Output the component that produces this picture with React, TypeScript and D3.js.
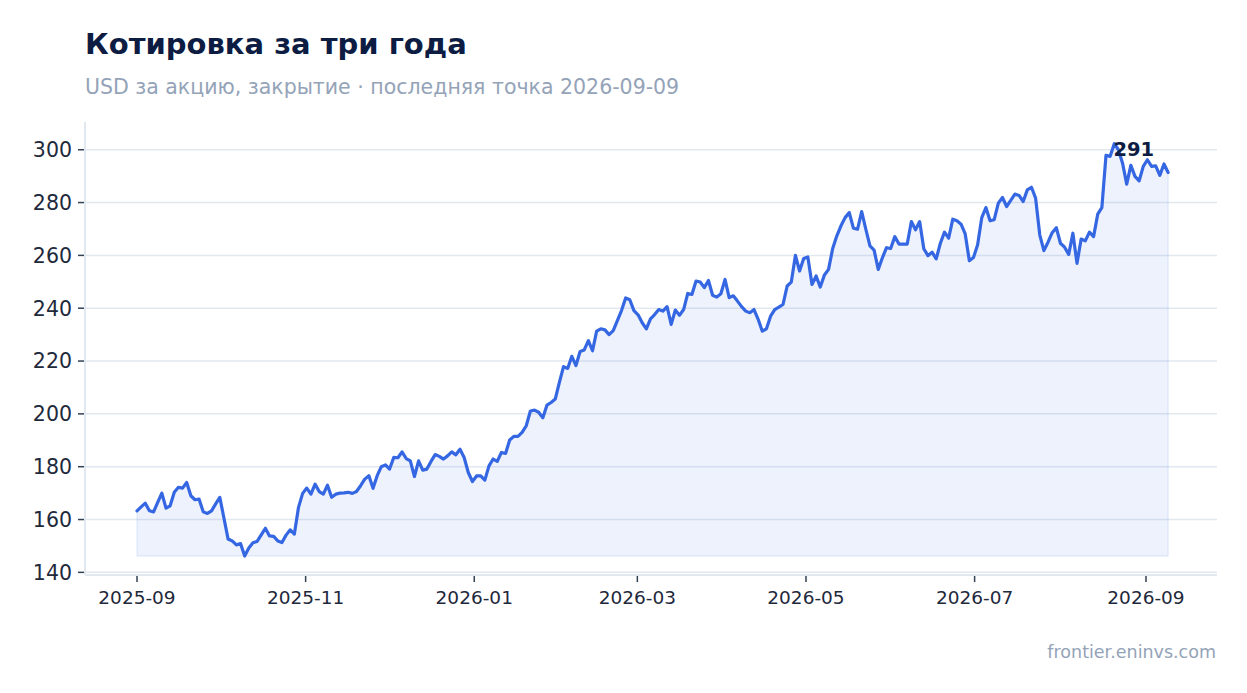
import * as d3 from 'd3';
import React from 'react';

const W = 1247;
const H = 693;

const title = 'Котировка за три года';
const subtitle = 'USD за акцию, закрытие · последняя точка 2026-09-09';
const source = 'frontier.eninvs.com';

// first and last quote date, points are evenly spaced in between
const firstDate = '2025-09-01';
const lastDate = '2026-09-09';

// closes (USD)
const closesSepNov = [
  163.3, 164.8, 166.2, 163.3, 162.9, 166.5, 170.0, 164.3, 165.2, 170.3,
  172.2, 171.9, 174.0, 169.0, 167.5, 167.7, 162.9, 162.3, 163.3, 165.9,
  168.4, 160.5, 152.6, 151.9, 150.4, 150.9, 146.2, 149.2, 151.2, 151.7,
  154.2, 156.7, 153.8, 153.6, 151.9, 151.3, 154.1, 156.1, 154.5, 164.6,
  169.9, 171.9, 169.6, 173.4, 170.6, 169.6, 173.0, 168.4, 169.6, 170.0,
  170.1, 170.3, 169.9, 170.6, 172.8, 175.3, 176.6, 171.8, 176.6, 180.0,
  180.7,
];
const closesDecFeb = [
  179.1, 183.5, 183.4, 185.6, 183.1, 182.2, 176.3, 182.2, 178.7, 179.1,
  182.0, 184.6, 183.9, 182.9, 184.1, 185.6, 184.5, 186.6, 183.5, 177.8,
  174.4, 176.5, 176.5, 174.9, 180.3, 182.9, 182.0, 185.4, 185.0, 190.1,
  191.5, 191.5, 193.0, 195.5, 201.1, 201.4, 200.6, 198.5, 203.3, 204.3,
  205.6, 211.9, 217.9, 217.2, 221.8, 218.3, 223.6, 224.2, 227.7, 223.9,
  231.3, 232.2, 231.8, 230.0, 231.5, 235.3, 239.1, 243.9, 243.2, 239.1,
  237.5,
];
const closesMarMay = [
  234.5, 232.2, 236.0, 237.6, 239.5, 238.9, 240.6, 233.9, 239.3, 237.3,
  239.5, 245.6, 245.2, 250.3, 249.9, 247.8, 250.5, 244.9, 244.2, 245.5,
  250.9, 244.0, 244.7, 242.7, 240.6, 238.9, 238.3, 239.5, 235.8, 231.3,
  232.2, 237.0, 239.5, 240.4, 241.4, 248.4, 249.9, 260.0, 254.1, 258.8,
  259.4, 249.0, 252.2, 248.0, 252.6, 254.7, 262.6, 267.4, 271.2, 274.3,
  276.2, 270.3, 269.9, 276.6, 269.9, 263.6, 262.0, 254.7, 259.1, 262.9,
  262.6, 267.1,
];
const closesJunSep = [
  264.3, 264.3, 264.3, 272.8, 269.7, 272.8, 262.5, 259.9, 261.2, 258.7,
  264.6, 268.8, 266.5, 273.7, 273.1, 271.8, 268.1, 258.0, 259.2, 264.0,
  274.3, 278.1, 273.1, 273.5, 279.8, 281.9, 278.5, 280.8, 283.2, 282.7,
  280.4, 284.8, 285.8, 281.7, 267.8, 261.8, 265.0, 268.6, 270.5, 264.6,
  263.1, 260.4, 268.4, 257.0, 266.2, 265.5, 268.8, 267.1, 275.6, 278.1,
  297.9, 297.5, 302.3, 300.0, 294.9, 287.0, 294.1, 289.9, 288.2, 293.7,
  296.2, 293.7, 293.9, 290.3, 294.6, 291.4,
];

const xTickMonths = ['2025-09', '2025-11', '2026-01', '2026-03', '2026-05', '2026-07', '2026-09'];
const yTicks = [140, 160, 180, 200, 220, 240, 260, 280, 300];

const FONT = '"DejaVu Sans", Verdana, sans-serif';
const BLUE = '#3567e3';

type Pt = { date: Date; close: number };

export default function App() {
  const margin = { left: 85, right: 1217, top: 122, bottom: 575 };

  const parseDay = d3.timeParse('%Y-%m-%d');
  const parseMonth = d3.timeParse('%Y-%m');
  const closes = [...closesSepNov, ...closesDecFeb, ...closesMarMay, ...closesJunSep];
  const t0 = +parseDay(firstDate)!;
  const t1 = +parseDay(lastDate)!;
  const data: Pt[] = closes.map((c, i) => ({
    date: new Date(t0 + ((t1 - t0) * i) / (closes.length - 1)),
    close: c,
  }));

  const monthTicks = xTickMonths.map(m => parseMonth(m)!);
  const x = d3.scaleTime()
    .domain([monthTicks[0], monthTicks[monthTicks.length - 1]])
    .range([137, 1146]);

  const y = d3.scaleLinear().domain([139, 310.5]).range([margin.bottom, margin.top]);

  const minClose = d3.min(closes)!;
  const line = d3.line<Pt>().x(d => x(d.date)).y(d => y(d.close));
  const area = d3.area<Pt>().x(d => x(d.date)).y0(y(minClose)).y1(d => y(d.close));

  const last = data[data.length - 1];
  const fmt = d3.timeFormat('%Y-%m');

  return (
    <svg
      width={W}
      height={H}
      style={{ position: 'absolute', left: 0, top: 0, display: 'block', background: '#fff' }}
      fontFamily={FONT}
    >
      <text x={85} y={54} fontSize={29} fontWeight="bold" fill="#0d1c42">{title}</text>
      <text x={85} y={94} fontSize={20.5} fill="#94a3b8">{subtitle}</text>

      {/* grid */}
      {yTicks.map(t => (
        <line key={t} x1={margin.left} x2={margin.right} y1={y(t)} y2={y(t)} stroke="#e2e8f0" strokeWidth={1.5} />
      ))}

      {/* area + line */}
      <path d={area(data)!} fill={BLUE} fillOpacity={0.085} stroke={BLUE} strokeOpacity={0.1} strokeWidth={1.5} />
      <path d={line(data)!} fill="none" stroke={BLUE} strokeWidth={3.2} strokeLinejoin="round" strokeLinecap="round" />

      {/* axes */}
      <line x1={margin.left} x2={margin.left} y1={margin.top} y2={margin.bottom} stroke="#e2e8f0" strokeWidth={2} />
      <line x1={margin.left} x2={margin.right} y1={margin.bottom} y2={margin.bottom} stroke="#e2e8f0" strokeWidth={2} />

      {yTicks.map(t => (
        <g key={t} transform={`translate(0,${y(t)})`}>
          <line x1={78} x2={84} stroke="#334155" strokeWidth={1.5} />
          <text x={72} dy="0.36em" textAnchor="end" fontSize={20.5} fill="#1e293b">{t}</text>
        </g>
      ))}

      {monthTicks.map(d => (
        <g key={+d} transform={`translate(${x(d)},${margin.bottom})`}>
          <line y1={1} y2={7} stroke="#334155" strokeWidth={1.5} />
          <text y={29} textAnchor="middle" fontSize={18.5} fill="#1e293b">{fmt(d)}</text>
        </g>
      ))}

      {/* last value label */}
      <text x={x(last.date) - 14} y={y(last.close) - 16} textAnchor="end" fontSize={19.5} fontWeight="bold" fill="#0d1c42">
        {Math.round(last.close)}
      </text>

      <text x={1216} y={658} textAnchor="end" fontSize={17.5} fill="#94a3b8">{source}</text>
    </svg>
  );
}
